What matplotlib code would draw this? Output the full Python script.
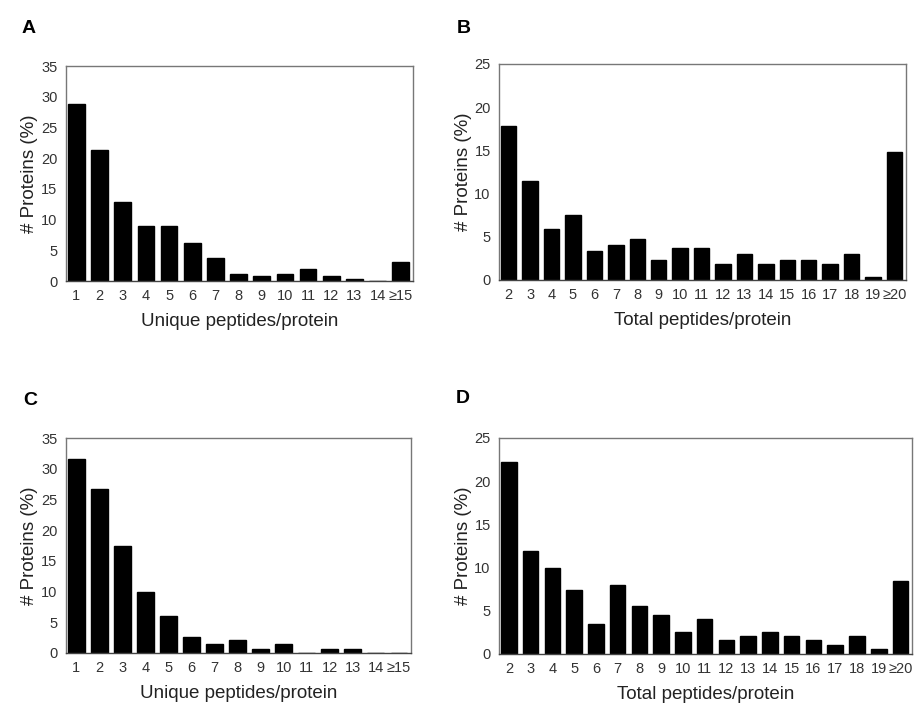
import matplotlib
matplotlib.use("Agg")
import matplotlib.pyplot as plt

plt.rcParams['font.family'] = ['Liberation Sans', 'DejaVu Sans']

# Data
unique_labels = ['1', '2', '3', '4', '5', '6', '7', '8', '9', '10', '11', '12', '13', '14', '≥15']
total_labels = ['2', '3', '4', '5', '6', '7', '8', '9', '10', '11', '12', '13', '14', '15', '16', '17', '18', '19', '≥20']

unique_a = [28.8, 21.3, 12.8, 8.9, 8.9, 6.2, 3.8, 1.1, 0.75, 1.1, 1.9, 0.75, 0.4, 0, 3.1]
total_b = [17.8, 11.5, 5.95, 7.5, 3.35, 4.1, 4.8, 2.3, 3.75, 3.75, 1.85, 3.05, 1.85, 2.3, 2.3, 1.85, 3.05, 0.4, 14.85]
unique_c = [31.6, 26.7, 17.4, 10.0, 6.0, 2.55, 1.5, 2.05, 0.65, 1.5, 0, 0.65, 0.65, 0, 0]
total_d = [22.2, 11.9, 9.9, 7.45, 3.5, 7.95, 5.5, 4.5, 2.55, 4.0, 1.6, 2.05, 2.55, 2.05, 1.6, 1.05, 2.05, 0.6, 8.45]

fig = plt.figure(figsize=(9.16, 7.07), dpi=100)

# letter, axes rect, letter position (figure coords), labels, values, y max, x label
panels = [
    ('A', [0.072, 0.6025, 0.379, 0.304], (0.024, 0.959), unique_labels, unique_a, 35, 'Unique peptides/protein'),
    ('B', [0.5448, 0.604, 0.444, 0.3055], (0.499, 0.959), total_labels, total_b, 25, 'Total peptides/protein'),
    ('C', [0.072, 0.0764, 0.3767, 0.304], (0.025, 0.434), unique_labels, unique_c, 35, 'Unique peptides/protein'),
    ('D', [0.5448, 0.075, 0.4508, 0.3055], (0.498, 0.436), total_labels, total_d, 25, 'Total peptides/protein'),
]

for letter, rect, pos, labels, values, ymax, xlab in panels:
    ax = fig.add_axes(rect)
    x = list(range(len(labels)))
    ax.bar(x, values, width=0.72, color='black', edgecolor='black')
    ax.set_xlim(-0.45, len(labels) - 0.47)
    ax.set_ylim(0, ymax)
    ax.set_yticks(range(0, ymax + 1, 5))
    ax.set_xticks(x)
    ax.set_xticklabels(labels)
    ax.tick_params(length=0, labelsize=10.5, colors='#333333', pad=6)
    for s in ax.spines.values():
        s.set_color('#777777')
        s.set_linewidth(1.0)
    ax.spines['bottom'].set_color('#444444')
    ax.set_xlabel(xlab, fontsize=13.5, color='#222222', labelpad=7)
    ax.set_ylabel('# Proteins (%)', fontsize=13.5, color='#222222', labelpad=2)
    fig.text(pos[0], pos[1], letter, fontsize=14, fontweight='bold', ha='left', va='center')

fig.savefig('out.png', dpi=100)
